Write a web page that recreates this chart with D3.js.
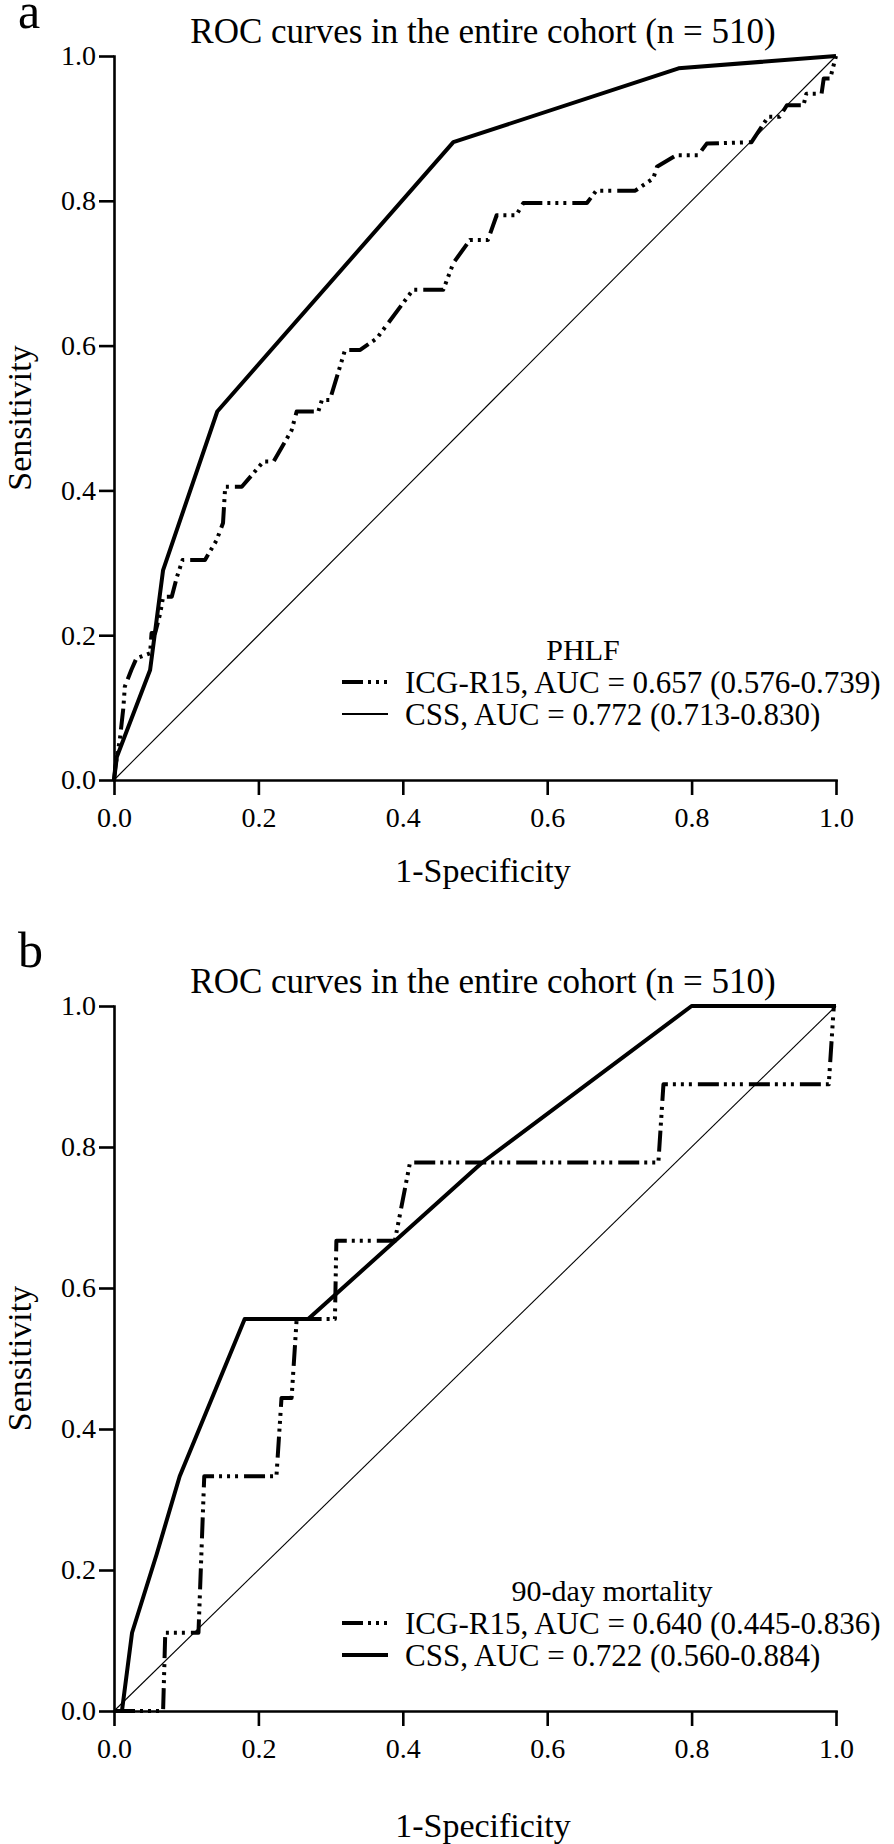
<!DOCTYPE html>
<html>
<head>
<meta charset="utf-8">
<script src="https://cdn.jsdelivr.net/npm/d3@7"></script>
<style>
  body { margin: 0; background: #fff; }
  svg text { font-family: "Liberation Serif", "Times New Roman", serif; fill: #000; }
</style>
</head>
<body>
<div id="chart"></div>
<script>
// tick values shared by both axes
var ticks = [0, 0.2, 0.4, 0.6, 0.8, 1.0];
var diagonal = [[0, 0], [1, 1]];
var titleText = "ROC curves in the entire cohort (n = 510)";

// panel a: PHLF, [1-specificity, sensitivity]
var phlfICG = [[0, 0], [0.002, 0.02], [0.008, 0.055], [0.013, 0.1], [0.015, 0.129], [0.024, 0.152],
    [0.031, 0.168], [0.05, 0.175], [0.052, 0.203], [0.057, 0.203], [0.064, 0.23], [0.068, 0.253],
    [0.08, 0.253], [0.087, 0.28], [0.095, 0.304], [0.126, 0.304], [0.142, 0.331], [0.151, 0.355],
    [0.154, 0.405], [0.177, 0.405], [0.207, 0.44], [0.221, 0.44], [0.246, 0.483], [0.253, 0.509],
    [0.283, 0.509], [0.288, 0.525], [0.299, 0.525], [0.32, 0.594], [0.341, 0.594], [0.364, 0.61],
    [0.414, 0.677], [0.456, 0.677], [0.47, 0.714], [0.493, 0.746], [0.518, 0.746], [0.53, 0.78],
    [0.557, 0.78], [0.567, 0.797], [0.655, 0.797], [0.668, 0.814], [0.722, 0.814], [0.747, 0.831],
    [0.752, 0.847], [0.779, 0.863], [0.809, 0.863], [0.821, 0.879], [0.883, 0.881], [0.906, 0.916],
    [0.922, 0.916], [0.932, 0.932], [0.955, 0.932], [0.959, 0.948], [0.98, 0.948], [0.983, 0.969],
    [0.992, 0.969], [1, 1]];
var phlfCSS = [[0, 0], [0.004, 0.032], [0.05, 0.152], [0.068, 0.29], [0.143, 0.509],
    [0.47, 0.881], [0.782, 0.983], [1, 1]];
var phlfLegend = ["ICG-R15, AUC = 0.657 (0.576-0.739)", "CSS, AUC = 0.772 (0.713-0.830)"];

// panel b: 90-day mortality
var mortICG = [[0, 0], [0.068, 0], [0.071, 0.111], [0.117, 0.111], [0.121, 0.222], [0.125, 0.333],
    [0.225, 0.333], [0.232, 0.444], [0.246, 0.444], [0.253, 0.556], [0.306, 0.556], [0.308, 0.667],
    [0.389, 0.667], [0.41, 0.778], [0.754, 0.778], [0.761, 0.889], [0.99, 0.889], [0.997, 1], [1, 1]];
var mortCSS = [[0, 0], [0.011, 0], [0.025, 0.111], [0.059, 0.222], [0.091, 0.333], [0.181, 0.556],
    [0.269, 0.556], [0.51, 0.778], [0.8, 1], [1, 1]];
var mortLegend = ["ICG-R15, AUC = 0.640 (0.445-0.836)", "CSS, AUC = 0.722 (0.560-0.884)"];

var dashICG = "21,5,3,5,3,5,3,6";

var svg = d3.select("#chart").append("svg")
    .attr("width", 894)
    .attr("height", 1844);

function drawPanel(p) {
    var x = d3.scaleLinear().domain([0, 1]).range([114, 836]);
    var y = d3.scaleLinear().domain([0, 1]).range([p.bottom, p.top]);
    var g = svg.append("g");

    var line = d3.line()
        .x(function (d) { return x(d[0]); })
        .y(function (d) { return y(d[1]); });

    // panel letter and title
    g.append("text").attr("x", 18).attr("y", p.letterY)
        .attr("font-size", 50).text(p.letter);
    g.append("text").attr("x", 483).attr("y", p.top - 13)
        .attr("text-anchor", "middle").attr("font-size", 35).text(titleText);

    // axes
    var xAxis = g.append("g")
        .attr("transform", "translate(0," + p.bottom + ")")
        .call(d3.axisBottom(x).tickValues(ticks).tickFormat(d3.format(".1f"))
            .tickSize(15).tickSizeOuter(0).tickPadding(12));
    var yAxis = g.append("g")
        .attr("transform", "translate(114,0)")
        .call(d3.axisLeft(y).tickValues(ticks).tickFormat(d3.format(".1f"))
            .tickSize(15).tickSizeOuter(0).tickPadding(3));
    [xAxis, yAxis].forEach(function (a) {
        a.attr("font-family", null).attr("font-size", null);
        a.select(".domain").attr("stroke-width", 2.6).attr("stroke-linecap", "square");
        a.selectAll(".tick line").attr("stroke-width", 2.6);
        a.selectAll(".tick text").attr("font-size", 28);
    });

    // axis labels
    g.append("text").attr("x", 483).attr("y", p.xLabelY)
        .attr("text-anchor", "middle").attr("font-size", 34).text("1-Specificity");
    g.append("text")
        .attr("transform", "translate(31," + (p.top + p.bottom) / 2 + ") rotate(-90)")
        .attr("text-anchor", "middle").attr("font-size", 34).text("Sensitivity");

    // reference diagonal
    g.append("path").datum(diagonal).attr("d", line)
        .attr("fill", "none").attr("stroke", "#000").attr("stroke-width", 1.1);

    // ROC curves
    g.append("path").datum(p.icg).attr("d", line)
        .attr("fill", "none").attr("stroke", "#000").attr("stroke-width", 4)
        .attr("stroke-dasharray", dashICG).attr("stroke-linejoin", "round");
    g.append("path").datum(p.css).attr("d", line)
        .attr("fill", "none").attr("stroke", "#000").attr("stroke-width", 4)
        .attr("stroke-linejoin", "round");

    // legend
    g.append("text").attr("x", p.legendTitleX).attr("y", p.legendY)
        .attr("text-anchor", "middle").attr("font-size", 30).text(p.legendTitle);
    var rows = [
        { label: p.legend[0], dash: dashICG, w: 4 },
        { label: p.legend[1], dash: null, w: p.cssSampleWidth }
    ];
    rows.forEach(function (r, i) {
        var ly = p.legendY + 22 + i * 32;
        g.append("line").attr("x1", 342).attr("x2", 388).attr("y1", ly).attr("y2", ly)
            .attr("stroke", "#000").attr("stroke-width", r.w)
            .attr("stroke-dasharray", r.dash);
        g.append("text").attr("x", 405).attr("y", ly + 11)
            .attr("font-size", 31).text(r.label);
    });
}

drawPanel({
    letter: "a", letterY: 28, top: 56, bottom: 780, xLabelY: 882,
    icg: phlfICG, css: phlfCSS, legend: phlfLegend,
    legendTitle: "PHLF", legendTitleX: 583, legendY: 660, cssSampleWidth: 2
});
drawPanel({
    letter: "b", letterY: 967, top: 1006, bottom: 1711, xLabelY: 1837,
    icg: mortICG, css: mortCSS, legend: mortLegend,
    legendTitle: "90-day mortality", legendTitleX: 612, legendY: 1601, cssSampleWidth: 4
});
</script>
</body>
</html>
